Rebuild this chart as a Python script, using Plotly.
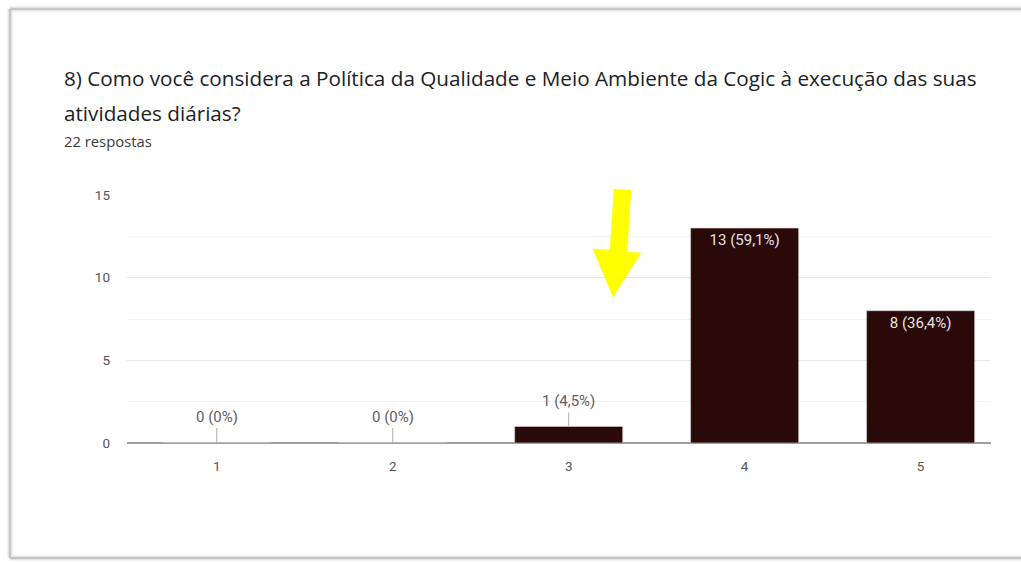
import plotly.graph_objects as go

# Survey answers (scale 1-5)
categories = ["1", "2", "3", "4", "5"]
counts = [0, 0, 1, 13, 8]
labels = ["0 (0%)", "0 (0%)", "1 (4,5%)", "13 (59,1%)", "8 (36,4%)"]
title_lines = [
    "8) Como você considera a Política da Qualidade e Meio Ambiente da Cogic à execução das suas",
    "atividades diárias?",
]
subtitle = "22 respostas"
y_ticks = [0, 5, 10, 15]

W, H = 1021, 562
ML, MR, MT, MB = 127, 30, 195, 119
PW, PH = W - ML - MR, H - MT - MB

BAR_COLOR = "#2a0909"
FONT = "Roboto, Arial, sans-serif"
HEAD_FONT = "Open Sans, Arial, sans-serif"


def px(x, y):
    """Pixel position on the page -> paper coordinates."""
    return (x - ML) / PW, (H - MB - y) / PH


fig = go.Figure()

# Values too small for an inside label get it above, with a leader line
inside = [c >= 5 for c in counts]
fig.add_trace(go.Bar(
    x=categories,
    y=counts,
    width=0.614,
    marker=dict(color=BAR_COLOR, line=dict(color="#d9d0d0", width=0.6)),
    text=[l if ins else "" for l, ins in zip(labels, inside)],
    textposition="inside",
    insidetextanchor="end",
    textfont=dict(family=FONT, size=15, color="#e6e2e2"),
    textangle=0,
    hoverinfo="skip",
    showlegend=False,
))

annotations = []
for i, (val, lab, ins) in enumerate(zip(counts, labels, inside)):
    if ins:
        continue
    annotations.append(dict(
        x=i, y=val, xref="x", yref="y",
        text=lab, showarrow=True, arrowhead=0, arrowwidth=1,
        arrowcolor="#b0b0b0", ax=0, ay=-15 if val == 0 else -14,
        yanchor="bottom", standoff=0,
        font=dict(family=FONT, size=15, color="#606060"),
    ))

# Heading text
tx, ty1 = px(62, 78)
_, ty2 = px(62, 113)
_, ty3 = px(62, 141)
annotations += [
    dict(x=tx, y=ty1, xref="paper", yref="paper", xanchor="left", yanchor="middle",
         text=title_lines[0], showarrow=False,
         font=dict(family=HEAD_FONT, size=20.7, color="#202124")),
    dict(x=tx, y=ty2, xref="paper", yref="paper", xanchor="left", yanchor="middle",
         text=title_lines[1], showarrow=False,
         font=dict(family=HEAD_FONT, size=20.7, color="#202124")),
    dict(x=tx, y=ty3, xref="paper", yref="paper", xanchor="left", yanchor="middle",
         text=subtitle, showarrow=False,
         font=dict(family=HEAD_FONT, size=14.8, color="#3c3c3c")),
]

# Card frame around the chart: top, left and bottom edges (right edge runs off the page)
lx, ty = px(10, 9)
rx, by = px(W, 558)
shapes = []
for color, width in (("#e4e4e4", 5), ("#bdbdbd", 1.5)):
    for (x0, y0, x1, y1) in ((lx, ty, rx, ty), (lx, ty, lx, by), (lx, by, rx, by)):
        shapes.append(dict(type="line", xref="paper", yref="paper",
                           x0=x0, y0=y0, x1=x1, y1=y1,
                           line=dict(color=color, width=width), layer="below"))

# Yellow pointer arrow
arrow_pts = [(614, 189), (631, 190), (627, 252), (641, 253), (613, 297),
             (593, 249), (610, 250)]
path = ""
for i, (ax_, ay_) in enumerate(arrow_pts):
    xp, yp = px(ax_, ay_)
    path += ("M" if i == 0 else "L") + f"{xp:.5f},{yp:.5f} "
path += "Z"
shapes.append(dict(type="path", xref="paper", yref="paper", path=path,
                   fillcolor="#ffff00", line=dict(color="#ffff00", width=0.5)))

fig.update_layout(
    width=W, height=H,
    margin=dict(l=ML, r=MR, t=MT, b=MB),
    paper_bgcolor="white",
    plot_bgcolor="white",
    bargap=0.386,
    annotations=annotations,
    shapes=shapes,
    font=dict(family=FONT),
)
fig.update_xaxes(
    type="category",
    range=[-0.51, 4.4],
    showgrid=False,
    showline=False,
    ticks="",
    ticklabelstandoff=13,
    tickfont=dict(family=FONT, size=13.5, color="#555555"),
    zeroline=False,
)
fig.update_yaxes(
    range=[0, 15],
    tickvals=y_ticks,
    showgrid=True,
    gridcolor="#e6e6e6",
    gridwidth=1,
    minor=dict(dtick=2.5, showgrid=True, gridcolor="#f3f3f3", gridwidth=1),
    zeroline=True,
    zerolinecolor="#a0a0a0",
    zerolinewidth=2,
    ticks="",
    ticklabelstandoff=16,
    tickfont=dict(family=FONT, size=13.5, color="#555555"),
)

fig.write_html("out.html")
